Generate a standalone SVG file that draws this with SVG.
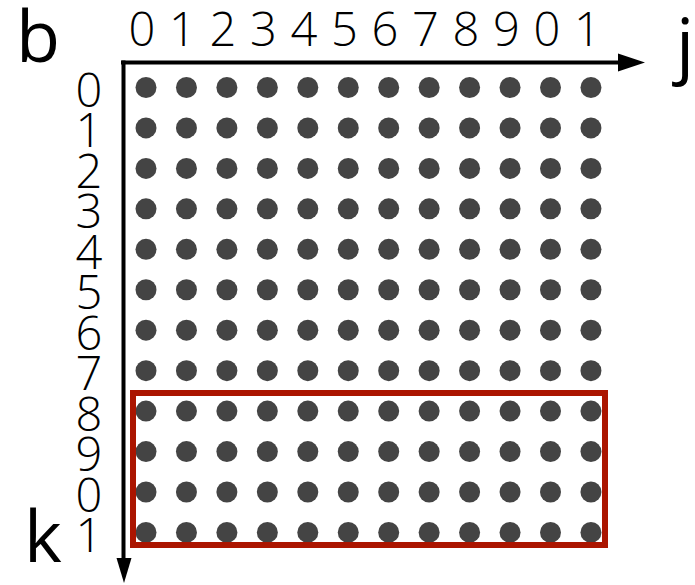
<svg xmlns="http://www.w3.org/2000/svg" xmlns:xlink="http://www.w3.org/1999/xlink" width="695" height="585" viewBox="0 0 695 585">
<style>
.lbl{font-family:"Open Sans","Liberation Sans",sans-serif;fill:#000}
.dig{font-size:47px;text-anchor:middle;font-weight:350}
.big{font-size:72px;font-weight:400}
.dot{fill:#444}
.ax{stroke:#000;stroke-width:4;fill:none}
</style>
<defs>
<circle id="d" r="10.5" class="dot"/>
<g id="row">
<use xlink:href="#d" x="146"/><use xlink:href="#d" x="186.45"/><use xlink:href="#d" x="226.9"/><use xlink:href="#d" x="267.35"/><use xlink:href="#d" x="307.8"/><use xlink:href="#d" x="348.25"/><use xlink:href="#d" x="388.7"/><use xlink:href="#d" x="429.15"/><use xlink:href="#d" x="469.6"/><use xlink:href="#d" x="510.05"/><use xlink:href="#d" x="550.5"/><use xlink:href="#d" x="590.95"/>
</g>
</defs>
<rect width="695" height="585" fill="#fff"/>
<g id="connectors">
<path class="ax" d="M121 62.5H622"/>
<polygon points="645,62.5 618,53.5 618,71.5" fill="#000"/>
<path class="ax" d="M123.5 60.5V562"/>
<polygon points="124,583 116.5,558 131.5,558" fill="#000"/>
</g>
<g id="grid">
<use id="row0" xlink:href="#row" y="87.5"/>
<use id="row1" xlink:href="#row" y="127.95"/>
<use id="row2" xlink:href="#row" y="168.4"/>
<use id="row3" xlink:href="#row" y="208.85"/>
<use id="row4" xlink:href="#row" y="249.3"/>
<use id="row5" xlink:href="#row" y="289.75"/>
<use id="row6" xlink:href="#row" y="330.2"/>
<use id="row7" xlink:href="#row" y="370.65"/>
<use id="row8" xlink:href="#row" y="411.1"/>
<use id="row9" xlink:href="#row" y="451.55"/>
<use id="row10" xlink:href="#row" y="492"/>
<use id="row11" xlink:href="#row" y="532.45"/>
</g>
<g id="highlight">
<rect x="133" y="393" width="472" height="152" fill="none" stroke="#ab1500" stroke-width="6"/>
</g>
<g id="col-labels" class="lbl dig">
<text x="142" y="46">0</text><text x="182.5" y="46">1</text><text x="223" y="46">2</text><text x="263.5" y="46">3</text><text x="304" y="46">4</text><text x="344.5" y="46">5</text><text x="385" y="46">6</text><text x="425.5" y="46">7</text><text x="466" y="46">8</text><text x="506.5" y="46">9</text><text x="547" y="46">0</text><text x="587.5" y="46">1</text>
</g>
<g id="row-labels" class="lbl dig">
<text x="89" y="106.5">0</text><text x="89" y="147">1</text><text x="89" y="187.5">2</text><text x="89" y="228">3</text><text x="89" y="268.5">4</text><text x="89" y="309">5</text><text x="89" y="349.5">6</text><text x="89" y="390">7</text><text x="89" y="430.5">8</text><text x="89" y="471">9</text><text x="89" y="511.5">0</text><text x="89" y="552">1</text>
</g>
<g id="axis-labels" class="lbl big">
<text x="16" y="62">b</text>
<text x="676" y="70">j</text>
<text x="24" y="562">k</text>
</g>
</svg>
